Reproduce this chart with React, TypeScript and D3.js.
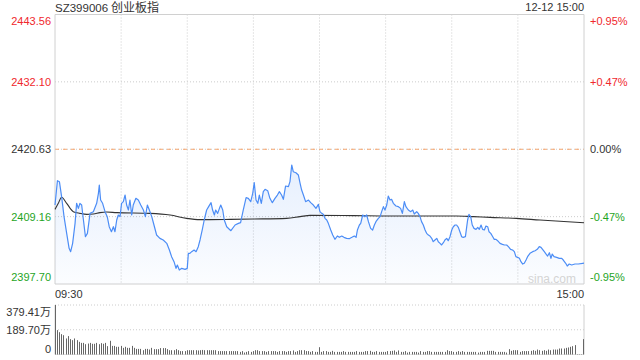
import React from 'react';
import * as d3 from 'd3';

const titleCode = 'SZ399006';
const titleName = '创业板指';
const dateText = '12-12 15:00';
const prevClose = 2420.63;
const priceTicks = [2443.56, 2432.1, 2420.63, 2409.16, 2397.7];
const pctTicks = ['+0.95%', '+0.47%', '0.00%', '-0.47%', '-0.95%'];
const volTicks = [379.41, 189.7, 0];
const volTickLabels = ['379.41万', '189.70万', '0'];
const timeLabels = ['09:30', '15:00'];

const priceMin = [
  0, 1.1, 2.0, 3.0, 4.1, 5.3, 6.4, 7.1, 8.0, 9.1, 9.8, 10.6, 11.3, 12.1, 12.9, 13.8, 14.7, 15.9, 17.4, 18.9,
  19.7, 20.1, 20.7, 21.6, 22.7, 23.7, 24.6, 25.6, 26.5, 27.2, 28.0, 28.7, 29.5, 30.2, 31.0, 31.8, 32.5, 33.3, 34.0, 34.8,
  35.5, 36.7, 37.8, 38.9, 40.1, 41.0, 41.9, 42.8, 43.9, 44.9, 46.1, 47.6, 49.1, 50.7, 51.9, 52.9, 54.0, 54.9, 55.5, 56.4,
  57.5, 59.0, 60.0, 60.5, 61.2, 62.0, 63.1, 64.0, 65.0, 65.8, 66.8, 67.7, 68.8, 69.7, 70.8, 71.5, 72.3, 72.9, 73.8, 74.6,
  75.2, 76.1, 76.8, 77.9, 79.8, 81.7, 83.2, 84.2, 85.4, 86.7, 87.7, 88.8, 89.7, 90.4, 91.2, 92.0, 92.7, 93.6, 94.5, 95.3,
  96.5, 97.5, 98.6, 99.8, 100.9, 101.8, 102.8, 103.6, 104.6, 105.9, 106.6, 107.4, 108.1, 109.3, 110.4, 111.2, 111.9, 112.7, 113.7, 115.0,
  116.0, 117.2, 118.4, 119.5, 120.2, 121.0, 121.7, 122.5, 123.3, 124.0, 125.1, 126.0, 127.0, 128.1, 129.0, 130.1, 131.1, 132.3, 133.5, 134.7,
  135.8, 136.6, 137.2, 138.1, 138.7, 139.6, 140.6, 141.4, 142.2, 143.2, 144.1, 144.9, 145.6, 146.7, 147.5, 148.2, 149.0, 149.7, 150.5, 151.2,
  152.0, 152.7, 153.5, 154.7, 155.8, 156.8, 157.6, 158.5, 159.2, 160.3, 161.4, 162.3, 163.0, 164.1, 164.8, 165.6, 166.3, 167.1, 167.9, 168.6,
  169.4, 170.1, 170.9, 171.6, 172.4, 173.2, 173.9, 174.7, 175.4, 176.2, 176.9, 177.7, 178.4, 179.2, 180.0, 180.7, 181.5, 182.2, 183.0, 183.7,
  184.5, 185.2, 186.2, 186.8, 187.2, 187.8, 188.6, 189.3, 190.1, 191.0, 191.8, 192.5, 193.3, 194.0, 194.8, 195.5, 196.3, 196.9, 197.7, 198.6,
  199.3, 200.1, 200.8, 201.9, 203.0, 203.9, 204.9, 205.7, 206.7, 207.6, 208.4, 209.1, 209.9, 210.7, 211.4, 212.2, 212.9, 213.7, 214.4, 215.5,
  216.7, 217.8, 218.8, 219.7, 220.5, 221.2, 222.0, 222.8, 223.5, 224.3, 225.0, 225.6, 226.4, 227.6, 228.8, 229.9, 230.6, 231.7, 232.4, 233.3,
  234.4, 235.9, 237.4, 239.4, 240,
];

const priceVal = [
  2411.14, 2415.28, 2415.11, 2412.56, 2409.16, 2406.32, 2403.77, 2403.2, 2404.62, 2408.02, 2411.43, 2410.57, 2411.43, 2411.14, 2408.59, 2405.75, 2406.32, 2409.72, 2410.01, 2411.43,
  2413.13, 2414.54, 2411.99, 2411.43, 2410.01, 2409.16, 2407.45, 2406.6, 2407.45, 2406.6, 2408.59, 2409.44, 2409.16, 2411.43, 2411.71, 2412.84, 2411.14, 2410.29, 2411.99, 2409.44,
  2411.14, 2412.28, 2411.99, 2411.14, 2410.29, 2409.16, 2411.14, 2410.29, 2409.16, 2407.74, 2406.04, 2405.47, 2405.19, 2404.62, 2403.48, 2402.35, 2401.5, 2400.36, 2400.93, 2400.08,
  2400.36, 2400.19, 2400.36, 2402.92, 2402.92, 2403.2, 2403.48, 2403.2, 2404.05, 2405.19, 2406.89, 2408.59, 2410.29, 2410.86, 2411.54, 2410.29, 2409.44, 2410.29, 2409.72, 2410.57,
  2411.14, 2410.29, 2408.59, 2407.45, 2406.77, 2407.74, 2408.02, 2408.14, 2410.29, 2412.39, 2412.28, 2411.71, 2413.13, 2414.94, 2411.99, 2411.43, 2412.84, 2411.43, 2413.41, 2413.81,
  2413.58, 2412.28, 2411.54, 2412.28, 2412.84, 2413.41, 2412.84, 2412.11, 2414.37, 2414.26, 2415.11, 2417.95, 2416.81, 2416.64, 2416.25, 2414.83, 2413.69, 2412.84, 2411.71, 2411.99,
  2411.54, 2411.14, 2410.57, 2411.25, 2410.01, 2409.72, 2409.55, 2408.87, 2408.59, 2408.02, 2406.89, 2406.04, 2405.3, 2405.87, 2405.64, 2405.87, 2405.64, 2405.47, 2405.41, 2405.64,
  2405.87, 2405.64, 2406.89, 2407.74, 2408.02, 2409.44, 2409.16, 2409.44, 2408.31, 2407.17, 2406.89, 2407.74, 2408.31, 2408.87, 2409.16, 2410.01, 2410.86, 2410.29, 2411.14, 2412.67,
  2411.99, 2412.11, 2411.43, 2410.97, 2410.86, 2410.57, 2409.72, 2411.71, 2410.86, 2410.29, 2410.01, 2410.29, 2409.61, 2410.01, 2409.72, 2409.16, 2408.31, 2407.74, 2406.89, 2406.32,
  2406.04, 2405.87, 2405.47, 2404.9, 2405.19, 2405.47, 2404.9, 2404.62, 2404.34, 2404.73, 2405.19, 2405.47, 2405.07, 2405.75, 2406.89, 2407.45, 2407.74, 2407.74, 2407.34, 2406.6,
  2405.75, 2405.64, 2405.75, 2407.45, 2408.59, 2409.55, 2409.16, 2407.74, 2407.17, 2407.0, 2407.34, 2407.0, 2407.74, 2407.0, 2406.89, 2407.57, 2407.45, 2406.6, 2406.32, 2405.75,
  2405.3, 2405.3, 2405.07, 2404.62, 2404.45, 2404.34, 2404.34, 2404.05, 2403.6, 2403.48, 2403.2, 2402.35, 2402.24, 2402.07, 2401.5, 2401.1, 2401.22, 2401.78, 2402.35, 2402.92,
  2403.2, 2403.37, 2403.6, 2404.05, 2403.94, 2403.6, 2403.2, 2402.8, 2402.46, 2403.03, 2402.07, 2402.8, 2402.35, 2402.24, 2402.07, 2402.07, 2401.78, 2401.22, 2400.76, 2401.1,
  2400.93, 2401.1, 2401.1, 2401.22, 2401.25,
];

const avgMin = [0, 1.5, 3.0, 5.3, 8.3, 11.3, 14.4, 17.4, 20.4, 23.4, 28.0, 43.1, 52.2, 59.7, 65.8, 79.4, 90.0, 105.1, 111.2, 115.7, 135.4, 152.0, 182.2, 189.8, 197.4, 209.4, 220.0, 240];
const avgVal = [2410.4, 2411.43, 2412.45, 2411.43, 2410.01, 2409.72, 2409.55, 2409.61, 2409.84, 2409.95, 2409.84, 2409.72, 2409.44, 2408.87, 2408.65, 2408.7, 2408.76, 2408.87, 2409.16, 2409.38, 2409.33, 2409.27, 2409.27, 2409.16, 2409.04, 2408.87, 2408.59, 2408.12];

const volumes = [
  379.41, 187, 171, 156, 148, 123, 141, 118, 110, 123,
  110, 97, 89, 89, 79, 84, 89, 82, 82, 89,
  79, 87, 82, 89, 64, 105, 66, 66, 59, 59,
  66, 51, 59, 51, 51, 66, 51, 43, 43, 43,
  33, 43, 43, 38, 51, 41, 41, 41, 49, 49,
  49, 41, 33, 33, 33, 41, 33, 26, 26, 26,
  33, 33, 33, 33, 33, 31, 33, 35, 33, 33,
  33, 33, 33, 33, 26, 26, 26, 26, 26, 26,
  26, 26, 26, 26, 20, 26, 15, 20, 26, 20,
  26, 33, 33, 26, 26, 26, 20, 26, 26, 26,
  26, 20, 26, 26, 26, 20, 26, 26, 31, 20,
  26, 33, 33, 33, 26, 26, 20, 26, 20, 20,
  56, 20, 26, 26, 20, 20, 28, 20, 20, 20,
  20, 26, 20, 20, 20, 20, 20, 26, 20, 20,
  20, 26, 26, 28, 20, 20, 26, 20, 20, 20,
  20, 26, 26, 28, 31, 20, 31, 20, 20, 26,
  15, 20, 20, 20, 20, 15, 26, 20, 20, 26,
  26, 20, 20, 20, 20, 20, 20, 20, 33, 26,
  26, 20, 20, 26, 20, 26, 20, 20, 20, 20,
  20, 20, 15, 20, 20, 20, 28, 28, 28, 28,
  20, 20, 20, 20, 20, 15, 41, 28, 33, 33,
  33, 20, 26, 26, 26, 26, 28, 33, 28, 38,
  33, 28, 33, 28, 38, 33, 38, 38, 38, 46,
  46, 46, 51, 54, 59, 64, 72, 3, 3, 3,
  118,
];

const W = 640;
const H = 360;
const L = 55;
const R = 584;
const T = 14.5;
const B = 284;
const VT = 305;
const VB = 354.5;
const FONT = '"Liberation Sans", Arial, "Noto Sans CJK SC", sans-serif';
const RED = '#f0282d';
const GREEN = '#1fa51f';
const DARK = '#333';

export default function App() {
  const x = d3.scaleLinear().domain([0, 240]).range([L, R]);
  const y = d3.scaleLinear().domain([priceTicks[4], priceTicks[0]]).range([B, T]);
  const yv = d3.scaleLinear().domain([0, volTicks[0]]).range([VB, VT]);

  const pts = priceMin.map((m, i) => [m, priceVal[i]] as [number, number]);
  const avgPts = avgMin.map((m, i) => [m, avgVal[i]] as [number, number]);

  const line = d3.line<[number, number]>().x((d) => x(d[0])).y((d) => y(d[1]));
  const area = d3
    .area<[number, number]>()
    .x((d) => x(d[0]))
    .y0(B)
    .y1((d) => y(d[1]));
  const avgLine = d3
    .line<[number, number]>()
    .x((d) => x(d[0]))
    .y((d) => y(d[1]))
    .curve(d3.curveMonotoneX);

  const tickColor = (v: number) => (v > prevClose + 0.001 ? RED : v < prevClose - 0.001 ? GREEN : DARK);
  const labelShift = (i: number, n: number) => (i === 0 ? 6 : i === n - 1 ? -7 : 0);

  const vGrid = d3.range(1, 8).map((k) => x(k * 30));

  return (
    <svg
      width={W}
      height={H}
      viewBox={`0 0 ${W} ${H}`}
      style={{ position: 'absolute', left: 0, top: 0, background: '#fff' }}
      fontFamily={FONT}
    >
      <defs>
        <linearGradient id="fillGrad" gradientUnits="userSpaceOnUse" x1="0" y1={y(2418)} x2="0" y2={B}>
          <stop offset="0" stopColor="#4c8df6" stopOpacity={0.14} />
          <stop offset="1" stopColor="#4c8df6" stopOpacity={0.02} />
        </linearGradient>
      </defs>

      {/* main chart grid */}
      {vGrid.map((gx, i) => (
        <line key={'vg' + i} x1={gx} x2={gx} y1={T} y2={B} stroke="#ccc" strokeDasharray="1,2" />
      ))}
      {priceTicks.slice(1, 4).map((t, i) => (
        <line key={'hg' + i} x1={L} x2={R} y1={y(t)} y2={y(t)} stroke="#ccc" strokeDasharray="1,2" />
      ))}
      <line x1={L} x2={R} y1={y(prevClose)} y2={y(prevClose)} stroke="#f6a56e" strokeDasharray="4,4" />
      <line x1={L} x2={R} y1={T} y2={T} stroke="#d0d0d0" />
      <line x1={L} x2={R} y1={B} y2={B} stroke="#d0d0d0" />
      <line x1={L} x2={L} y1={T} y2={B} stroke="#d0d0d0" />
      <line x1={R} x2={R} y1={T} y2={B} stroke="#d0d0d0" />

      {/* area + price line */}
      <path d={area(pts) ?? ''} fill="url(#fillGrad)" />
      <path d={avgLine(avgPts) ?? ''} fill="none" stroke="#333" strokeWidth={1.1} />
      <path d={line(pts) ?? ''} fill="none" stroke="#4c8df6" strokeWidth={1.2} strokeLinejoin="round" />

      <text x={552} y={279} fontSize={12} fill="#d4d4d4" textAnchor="middle" dominantBaseline="central">
        sina.com
      </text>

      {/* title */}
      <text x={L} y={11.5} fontSize={11.5} fill={DARK}>
        {titleCode}
        <tspan dx={3} fontSize={12}>
          {titleName}
        </tspan>
      </text>
      <text x={R} y={11} fontSize={11} fill={DARK} textAnchor="end">
        {dateText}
      </text>

      {/* price axis labels */}
      {priceTicks.map((t, i) => (
        <text
          key={'pl' + i}
          x={51}
          y={y(t) + labelShift(i, priceTicks.length)}
          fontSize={11}
          fill={tickColor(t)}
          textAnchor="end"
          dominantBaseline="central"
        >
          {t.toFixed(2)}
        </text>
      ))}
      {priceTicks.map((t, i) => (
        <text
          key={'pc' + i}
          x={590}
          y={y(t) + labelShift(i, priceTicks.length)}
          fontSize={11}
          fill={tickColor(t)}
          dominantBaseline="central"
        >
          {pctTicks[i]}
        </text>
      ))}

      {/* time labels */}
      <text x={L} y={293.5} fontSize={11} fill={DARK} dominantBaseline="central">
        {timeLabels[0]}
      </text>
      <text x={R} y={293.5} fontSize={11} fill={DARK} textAnchor="end" dominantBaseline="central">
        {timeLabels[1]}
      </text>

      {/* volume chart */}
      {volTicks.slice(0, 2).map((t, i) => (
        <line key={'vh' + i} x1={L} x2={R} y1={yv(t)} y2={yv(t)} stroke="#ccc" strokeDasharray="1,2" />
      ))}
      <line x1={L} x2={R} y1={VB} y2={VB} stroke="#e0e0e0" />
      <line x1={L} x2={L} y1={VT} y2={VB} stroke="#d0d0d0" />
      <line x1={R} x2={R} y1={VT} y2={VB} stroke="#d0d0d0" />
      {volumes.map((v, i) => (
        <rect
          key={'vb' + i}
          x={Math.min(Math.floor(x(i)), R - 1)}
          y={yv(v)}
          width={1}
          height={VB - yv(v)}
          fill="#666"
        />
      ))}
      {volTicks.map((t, i) => (
        <text
          key={'vl' + i}
          x={51}
          y={yv(t) + (i === 0 ? 7 : i === 2 ? -6 : 0)}
          fontSize={11}
          fill={DARK}
          textAnchor="end"
          dominantBaseline="central"
        >
          {volTickLabels[i]}
        </text>
      ))}
    </svg>
  );
}
